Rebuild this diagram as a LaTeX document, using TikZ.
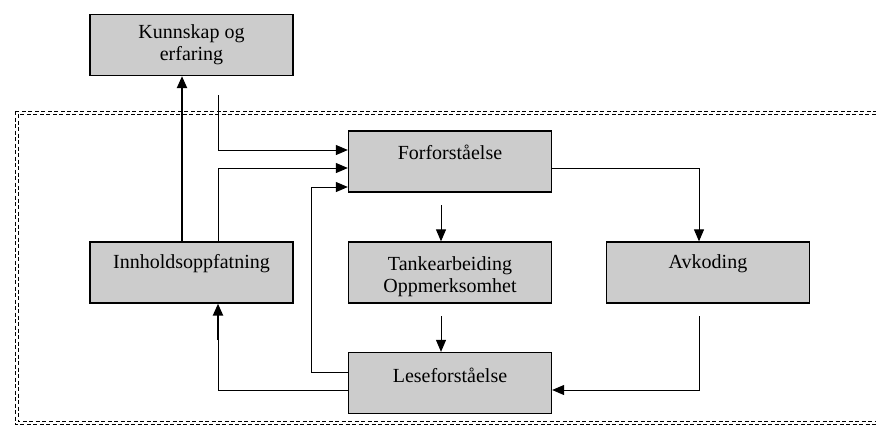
\documentclass[tikz,border=0pt]{standalone}
\usepackage{fontspec}
\setmainfont{Liberation Serif}
\usetikzlibrary{arrows.meta}
\begin{document}
\begin{tikzpicture}[x=1pt,y=-1pt,
  box/.style={draw=black,line width=1.3pt,fill=black!20,minimum width=203pt,minimum height=61pt,inner sep=0pt},
  lbl/.style={font=\fontsize{20}{22}\selectfont,align=center,inner sep=0pt},
  conn/.style={line width=1pt,-{Triangle[length=12pt,width=10pt]}},
  thick conn/.style={line width=2.2pt,-{Triangle[length=12pt,width=10pt]}},
  dashframe/.style={draw=black,dash pattern=on 4pt off 2.5pt,line width=0.9pt}]
\useasboundingbox (0,0) rectangle (876,426);
% outer dashed frame (double line)
\draw[dashframe] (15,111) rectangle (900,424);
\draw[dashframe] (18,114) rectangle (897,421);
% boxes
\node[box] (kunn) at (191.5,45) {};
\node[lbl] at (kunn) {Kunnskap og\\erfaring};
\node[box] (forf) at (450,161.5) {};
\node[lbl] at ([yshift=9pt]forf.center) {Forforståelse};
\node[box] (innh) at (191.5,272.5) {};
\node[lbl] at ([yshift=9pt]innh.center) {Innholdsoppfatning};
\node[box] (tank) at (450,272.5) {};
\node[lbl] at ([yshift=-4pt]tank.center) {Tankearbeiding\\Oppmerksomhet};
\node[box] (avko) at (708,272.5) {};
\node[lbl] at ([yshift=9pt]avko.center) {Avkoding};
\node[box] (lese) at (450,383) {};
\node[lbl] at ([yshift=8pt]lese.center) {Leseforståelse};
% free ends
\coordinate (k0) at (218,95);
\coordinate (f0) at (441,205);
\coordinate (t0) at (441,316);
\coordinate (a0) at (699,316);
% connectors
\draw[thick conn] (innh.north -| 182,0) -- (kunn.south -| 182,0);
\draw[conn] (k0) |- (forf.west |- 0,150);
\draw[conn] (innh.north -| 218,0) |- (forf.west |- 0,168);
\draw[conn] (lese.west |- 0,372) -| (311,187) -- (forf.west |- 0,187);
\draw[conn] (forf.east |- 0,168) -| (avko.north -| 699,0);
\draw[conn] (f0) -- (tank.north -| 441,0);
\draw[conn] (t0) -- (lese.north -| 441,0);
\draw[conn] (a0) |- (lese.east |- 0,390);
\draw[line width=1pt] (lese.west |- 0,390) -| (218,310);
\draw[thick conn] (218,340) -- (innh.south -| 218,0);
\end{tikzpicture}
\end{document}
